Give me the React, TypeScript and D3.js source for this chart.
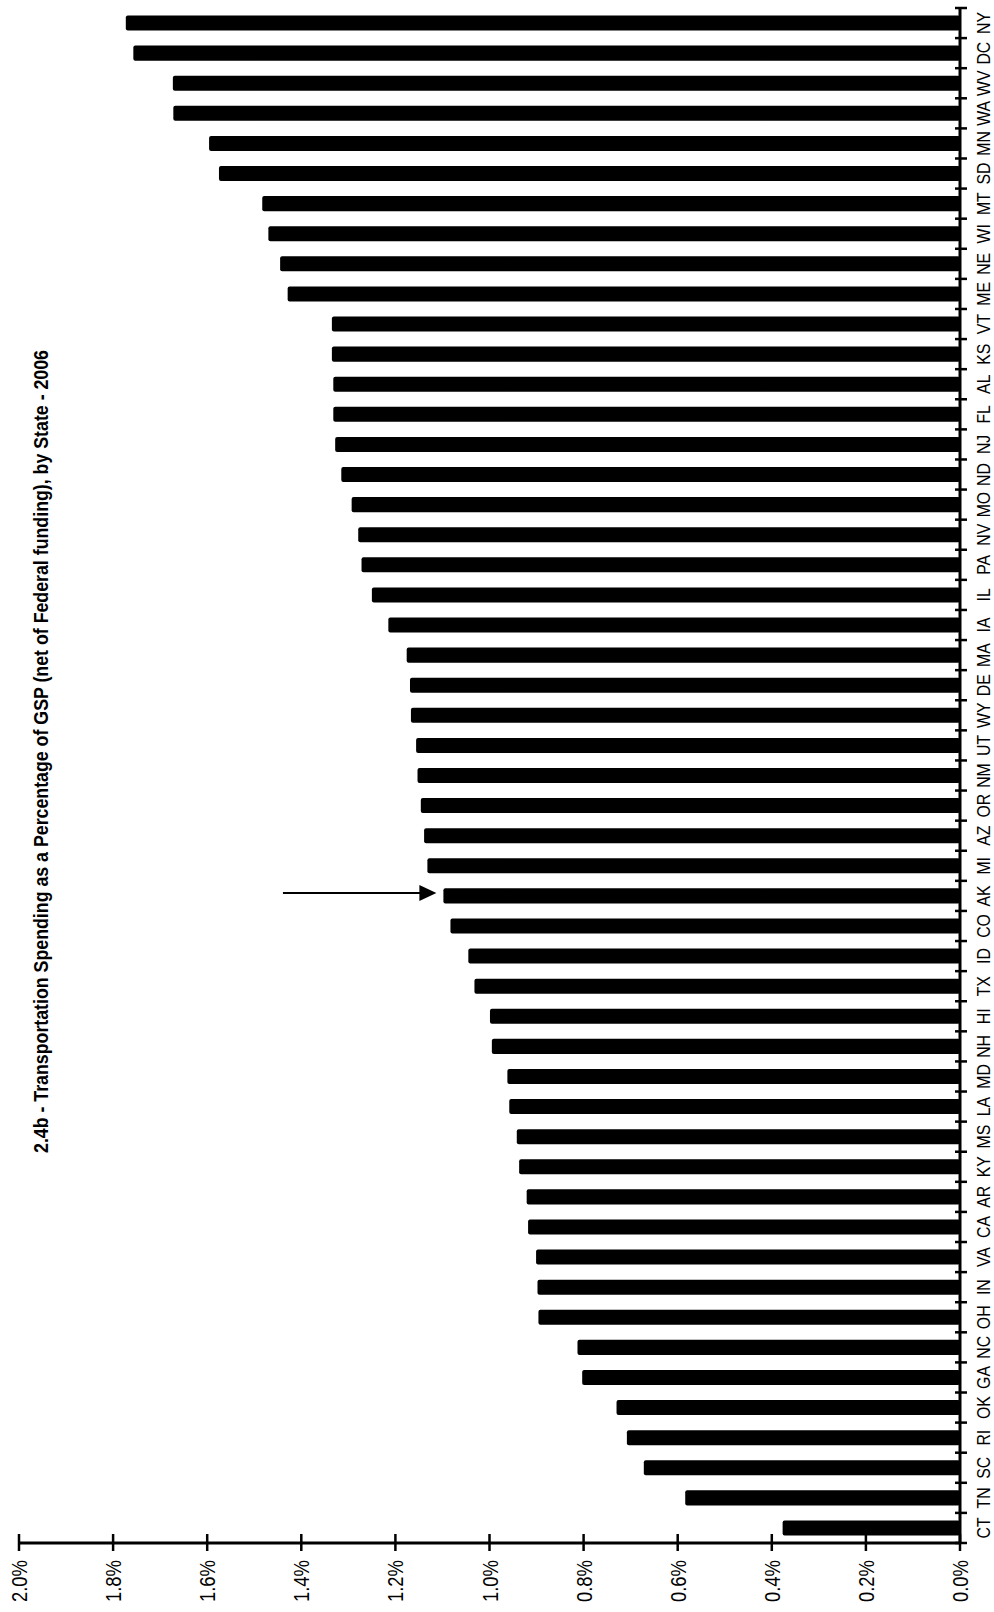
import React from "react";
import * as d3 from "d3";

const title =
  "2.4b - Transportation Spending as a Percentage of GSP (net of Federal funding), by State - 2006";

// bottom to top (as shown)
const states = [
  "CT","TN","SC","RI","OK","GA","NC","OH","IN","VA","CA","AR","KY","MS","LA","MD","NH","HI","TX","ID",
  "CO","AK","MI","AZ","OR","NM","UT","WY","DE","MA","IA","IL","PA","NV","MO","ND","NJ","FL","AL","KS",
  "VT","ME","NE","WI","MT","SD","MN","WA","WV","DC","NY",
];

const values = [
  0.377, 0.584, 0.672, 0.708, 0.730, 0.803, 0.813, 0.896, 0.898, 0.901, 0.918, 0.921, 0.937, 0.942, 0.958,
  0.962, 0.995, 0.999, 1.032, 1.045, 1.083, 1.098, 1.132, 1.139, 1.146, 1.153, 1.156, 1.167, 1.169, 1.176,
  1.215, 1.250, 1.272, 1.279, 1.293, 1.315, 1.328, 1.332, 1.332, 1.335, 1.335, 1.429, 1.445, 1.470, 1.483,
  1.575, 1.596, 1.672, 1.673, 1.757, 1.773,
];

const valueTicks = [0, 0.2, 0.4, 0.6, 0.8, 1.0, 1.2, 1.4, 1.6, 1.8, 2.0];
const arrowState = "AK";
const arrowFrom = 1.439;

export default function App() {
  const W = 994;
  const H = 1612;
  const baseX = 960;
  const axisY = 1543;
  const topY = 8;

  const x = d3.scaleLinear().domain([0, 2.0]).range([baseX, 19]);
  const y = d3
    .scaleBand<string>()
    .domain([...states].reverse())
    .range([topY, axisY])
    .paddingInner(0.5)
    .paddingOuter(0.25);

  const step = y.step();
  const boundaries = d3.range(states.length + 1).map((i) => topY + i * step);
  const fmt = (v: number) => v.toFixed(1) + "%";

  const akIdx = states.indexOf(arrowState);
  const arrowY = (y(arrowState) as number) + y.bandwidth() / 2 - 3;
  const tipX = x(values[akIdx]) - 7;

  return (
    <svg
      width={W}
      height={H}
      style={{ position: "absolute", left: 0, top: 0, background: "#fff" }}
      fontFamily="'Liberation Sans', Arial, sans-serif"
    >
      <rect x={0} y={0} width={W} height={H} fill="#fff" />
      {/* bars */}
      {states.map((s, i) => (
        <rect
          key={s}
          x={x(values[i])}
          y={y(s) as number}
          width={baseX - x(values[i])}
          height={y.bandwidth()}
          rx={2}
          fill="#000"
        />
      ))}

      {/* category axis */}
      <line x1={baseX} x2={baseX} y1={topY} y2={axisY} stroke="#000" strokeWidth={3} />
      {boundaries.map((b, i) => (
        <line key={"ct" + i} x1={baseX - 5} x2={baseX + 7} y1={b} y2={b} stroke="#000" strokeWidth={2.5} />
      ))}
      {states.map((s) => {
        const cy = (y(s) as number) + y.bandwidth() / 2;
        return (
          <text
            key={"lab" + s}
            transform={`translate(990,${cy}) rotate(-90) scale(0.88,1)`}
            textAnchor="middle"
            fontSize={18}
            fill="#000"
          >
            {s}
          </text>
        );
      })}

      {/* value axis */}
      <line x1={x(2.0)} x2={baseX} y1={axisY} y2={axisY} stroke="#000" strokeWidth={3} />
      {valueTicks.map((t) => (
        <g key={"vt" + t}>
          <line x1={x(t)} x2={x(t)} y1={axisY - 9} y2={axisY + 8} stroke="#000" strokeWidth={2.5} />
          <text
            transform={`translate(${x(t) + 8},1560) rotate(-90)`}
            textAnchor="end"
            fontSize={22}
            textLength={42}
            lengthAdjust="spacingAndGlyphs"
            fill="#000"
          >
            {fmt(t)}
          </text>
        </g>
      ))}

      {/* title */}
      <text
        transform={`translate(48,${(350 + 1153) / 2}) rotate(-90)`}
        textAnchor="middle"
        fontSize={20}
        fontWeight="bold"
        textLength={803}
        lengthAdjust="spacingAndGlyphs"
        fill="#000"
      >
        {title}
      </text>

      {/* arrow */}
      <line x1={x(arrowFrom)} x2={tipX - 14} y1={arrowY} y2={arrowY} stroke="#000" strokeWidth={2} />
      <path
        d={`M${tipX},${arrowY} L${tipX - 17},${arrowY - 8} L${tipX - 17},${arrowY + 8} Z`}
        fill="#000"
      />
    </svg>
  );
}
